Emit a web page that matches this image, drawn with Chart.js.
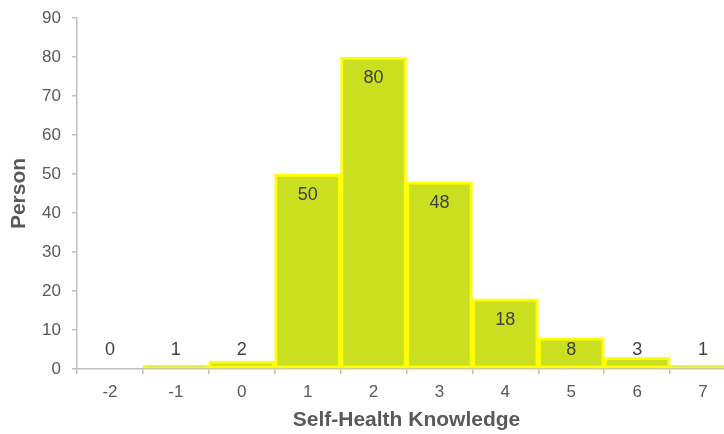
<!DOCTYPE html>
<html>
<head>
<meta charset="utf-8">
<script src="https://cdn.jsdelivr.net/npm/chart.js@4/dist/chart.umd.min.js"></script>
<style>
html,body{margin:0;padding:0;overflow:hidden;background:#fff;width:724px;height:434px;}
#wrap{position:relative;width:740px;height:434px;}
</style>
</head>
<body>
<div id="wrap"><canvas id="c" width="740" height="434"></canvas></div>
<script>
const categories = ['-2','-1','0','1','2','3','4','5','6','7'];
const persons = [0, 1, 2, 50, 80, 48, 18, 8, 3, 1];
const yTicks = [0,10,20,30,40,50,60,70,80,90];
const xTitle = 'Self-Health Knowledge';
const yTitle = 'Person';

const FONT = "'Liberation Sans', Arial, sans-serif";

const labelPlugin = {
  id: 'barLabels',
  afterDatasetsDraw(chart) {
    const ctx = chart.ctx;
    const meta = chart.getDatasetMeta(0);
    const yScale = chart.scales.y;
    const limit = yScale.getPixelForValue(0) - 19;
    ctx.save();
    ctx.font = '18px ' + FONT;
    ctx.fillStyle = '#404040';
    ctx.textAlign = 'center';
    ctx.textBaseline = 'middle';
    meta.data.forEach((bar, i) => {
      const y = Math.min(bar.y + 21, limit);
      ctx.fillText(String(persons[i]), bar.x, y);
    });
    ctx.restore();
  }
};

new Chart(document.getElementById('c'), {
  type: 'bar',
  data: {
    labels: categories,
    datasets: [{
      data: persons,
      backgroundColor: '#cadf20',
      borderColor: '#ffff00',
      borderWidth: 3,
      borderSkipped: false,
      barPercentage: 1,
      categoryPercentage: 1
    }]
  },
  options: {
    responsive: false,
    animation: false,
    devicePixelRatio: 1,
    layout: { padding: { left: 0, right: 4, top: 18, bottom: 0 } },
    plugins: { legend: { display: false }, tooltip: { enabled: false } },
    scales: {
      x: {
        afterFit(s) { s.height = 65; },
        grid: { display: true, drawOnChartArea: false, drawTicks: true, tickLength: 5, color: '#bfbfbf', lineWidth: 1.5, offset: true },
        border: { display: true, color: '#bfbfbf', width: 1.5 },
        ticks: { color: '#595959', font: { family: FONT, size: 17 }, padding: 8, maxRotation: 0 },
        title: { display: true, text: xTitle, color: '#595959', font: { family: FONT, size: 21, weight: 'bold' }, padding: { top: 0, bottom: 1 } }
      },
      y: {
        min: 0, max: 90,
        afterFit(s) { s.width = 77; s.paddingTop = 0; s.paddingBottom = 0; },
        afterBuildTicks(s) { s.ticks = yTicks.map(v => ({ value: v })); },
        grid: { display: true, drawOnChartArea: false, drawTicks: true, tickLength: 5, color: '#bfbfbf', lineWidth: 1.5 },
        border: { display: true, color: '#bfbfbf', width: 1.5 },
        ticks: { color: '#595959', font: { family: FONT, size: 17 }, padding: 11 },
        title: { display: true, text: yTitle, color: '#595959', font: { family: FONT, size: 21, weight: 'bold' }, padding: { top: 7, bottom: 0 } }
      }
    }
  },
  plugins: [labelPlugin]
});
</script>
</body>
</html>
